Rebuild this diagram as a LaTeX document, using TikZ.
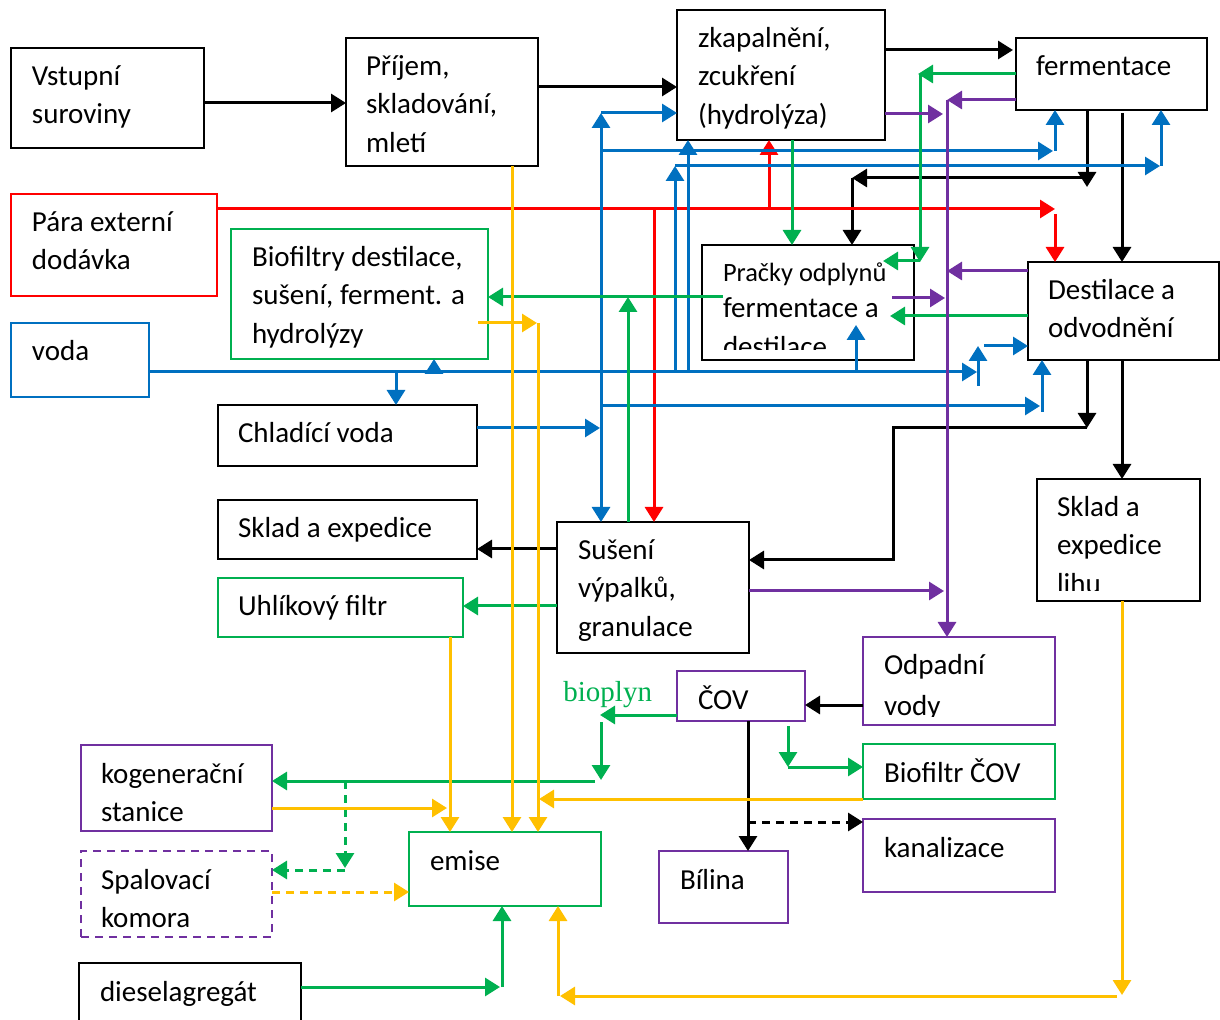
\documentclass[tikz,border=0pt]{standalone}
\usepackage{fontspec}
\setmainfont{Carlito}
\newfontfamily\serifb{Liberation Serif}
\usetikzlibrary{arrows.meta}
\definecolor{cblue}{HTML}{0070C0}
\definecolor{cgreen}{HTML}{00B050}
\definecolor{cpurple}{HTML}{7030A0}
\definecolor{cyellow}{HTML}{FFC000}
\definecolor{cred}{HTML}{FF0000}
\tikzset{
  box/.style={draw, line width=1pt, inner sep=0pt, outer sep=0pt, anchor=north west},
  conn/.style={line width=1.5pt, -{Triangle[length=7.5pt,width=9pt]}},
  dsh/.style={dash pattern=on 4pt off 3pt},
  txt/.style={anchor=base west, inner sep=0pt, outer sep=0pt, font=\fontsize{14.5}{19.5}\selectfont},
  smtxt/.style={anchor=base west, inner sep=0pt, outer sep=0pt, font=\fontsize{13.2}{18}\selectfont}
}
\newcommand{\mybox}[6]{\node[box,#6,minimum width={(#4-#2)*0.5pt},minimum height={(#5-#3)*0.5pt}] (#1) at (#2,#3) {};}
\begin{document}
\begin{tikzpicture}[x=0.5pt,y=-0.5pt]
\useasboundingbox (0,0) rectangle (1220,1020);
% boxes
\mybox{vst}{11}{48}{204}{148}{black}
\mybox{prij}{346}{38}{538}{166}{black}
\mybox{zkap}{677}{10}{885}{140}{black}
\mybox{ferm}{1016}{38}{1207}{110}{black}
\mybox{para}{11}{194}{217}{296}{cred}
\mybox{biof}{231}{229}{488}{359}{cgreen}
\mybox{voda}{11}{323}{149}{397}{cblue}
\mybox{prac}{702}{245}{914}{360}{black}
\mybox{dest}{1028}{262}{1219}{360}{black}
\mybox{chlad}{218}{405}{477}{466}{black}
\mybox{sklad}{218}{500}{477}{559}{black}
\mybox{suse}{557}{522}{749}{653}{black}
\mybox{lihu}{1037}{479}{1200}{601}{black}
\mybox{uhl}{218}{578}{463}{637}{cgreen}
\mybox{odp}{863}{637}{1055}{725}{cpurple}
\mybox{cov}{677}{671}{805}{721}{cpurple}
\mybox{kog}{81}{745}{272}{831}{cpurple}
\mybox{bcov}{863}{744}{1055}{799}{cgreen}
\mybox{spal}{81}{851}{272}{937}{cpurple,dsh}
\mybox{emis}{409}{832}{601}{906}{cgreen}
\mybox{kan}{863}{819}{1055}{892}{cpurple}
\mybox{bil}{659}{851}{788}{923}{cpurple}
\mybox{dies}{79}{963}{301}{1040}{black}
% texts
\node[txt] (t-vst1) at (32,86) {Vstupní};
\node[txt] (t-vst2) at (32,124) {suroviny};
\node[txt] (t-prij1) at (366,76) {Příjem,};
\node[txt] (t-prij2) at (366,114) {skladování,};
\node[txt] (t-prij3) at (366,153) {mletí};
\node[txt] (t-zkap1) at (698,48) {zkapalnění,};
\node[txt] (t-zkap2) at (698,86) {zcukření};
\node[txt] (t-zkap3) at (698,125) {(hydrolýza)};
\node[txt] (t-ferm) at (1036,76) {fermentace};
\node[txt] (t-para1) at (32,232) {Pára externí};
\node[txt] (t-para2) at (32,270) {dodávka};
\node[txt] (t-biof1) at (252,267) {Biofiltry destilace,};
\node[txt] (t-biof2) at (252,305) {sušení, ferment. a};
\node[txt] (t-biof3) at (252,344) {hydrolýzy};
\node[txt] (t-voda) at (32,361) {voda};
\node[smtxt] (t-prac1) at (723,282) {Pračky odplynů};
\node[txt] (t-prac2) at (723,318) {fermentace a};
\begin{scope}
\clip (702,320) rectangle (914,350);
\node[txt] (t-prac3) at (723,357) {destilace};
\end{scope}
\node[txt] (t-dest1) at (1048,300) {Destilace a};
\node[txt] (t-dest2) at (1048,338) {odvodnění};
\node[txt] (t-chlad) at (238,443) {Chladící voda};
\node[txt] (t-sklad) at (238,538) {Sklad a expedice};
\node[txt] (t-suse1) at (578,560) {Sušení};
\node[txt] (t-suse2) at (578,598) {výpalků,};
\node[txt] (t-suse3) at (578,637) {granulace};
\node[txt] (t-lihu1) at (1057,517) {Sklad a};
\node[txt] (t-lihu2) at (1057,555) {expedice};
\begin{scope}
\clip (1037,560) rectangle (1200,591);
\node[txt] (t-lihu3) at (1057,594) {lihu};
\end{scope}
\node[txt] (t-uhl) at (238,616) {Uhlíkový filtr};
\node[txt] (t-odp1) at (884,675) {Odpadní};
\begin{scope}
\clip (863,680) rectangle (1055,716);
\node[txt] (t-odp2) at (884,715) {vody};
\end{scope}
\node[txt] (t-cov) at (698,709) {ČOV};
\node[anchor=base west, inner sep=0pt, text=cgreen, font=\serifb\fontsize{14.5}{19.5}\selectfont] (t-biopl) at (563,702) {bioplyn};
\node[txt] (t-kog1) at (101,783) {kogenerační};
\node[txt] (t-kog2) at (101,821) {stanice};
\node[txt] (t-bcov) at (884,782) {Biofiltr ČOV};
\node[txt] (t-spal1) at (101,889) {Spalovací};
\node[txt] (t-spal2) at (101,927) {komora};
\node[txt] (t-emis) at (430,870) {emise};
\node[txt] (t-kan) at (884,857) {kanalizace};
\node[txt] (t-bil) at (680,889) {Bílina};
\node[txt] (t-dies) at (100,1001) {dieselagregát};
% black connectors
\draw[conn] (vst.east |- 0,103) -- (prij.west |- 0,103);
\draw[conn] (prij.east |- 0,87) -- (zkap.west |- 0,87);
\draw[conn] (zkap.east |- 0,50) -- (1013,50);
\draw[conn] (ferm.south -| 1087,0) -- (1087,187);
\draw[conn] (1087,178) -- (852,178);
\draw[conn] (852,178) -- (prac.north -| 852,0);
\draw[conn] (1122,113) -- (dest.north -| 1122,0);
\draw[conn] (dest.south -| 1087,0) -- (1087,428);
\draw[conn] (1087,428) -- (893,428) -- (893,560) -- (suse.east |- 0,560);
\draw[conn] (dest.south -| 1122,0) -- (lihu.north -| 1122,0);
\draw[conn] (suse.west |- 0,549) -- (sklad.east |- 0,549);
\draw[conn] (odp.west |- 0,705) -- (cov.east |- 0,705);
\draw[conn] (cov.south -| 748,0) -- (bil.north -| 748,0);
\draw[conn,dsh] (748,822) -- (kan.west |- 0,822);
% red
\draw[conn,cred] (para.east |- 0,209) -- (1055,209);
\draw[conn,cred] (1055,214) -- (dest.north -| 1055,0);
\draw[conn,cred] (769,209) -- (zkap.south -| 769,0);
\draw[conn,cred] (654,209) -- (suse.north -| 654,0);
% blue
\draw[conn,cblue] (voda.east |- 0,372) -- (977,372);
\draw[conn,cblue] (978,386) -- (978,346);
\draw[conn,cblue] (984,346) -- (dest.west |- 0,346);
\draw[conn,cblue] (396,372) -- (chlad.north -| 396,0);
\draw[conn,cblue] (434,372) -- (biof.south -| 434,0);
\draw[conn,cblue] (856,372) -- (856,325);
\draw[conn,cblue] (675,372) -- (675,166);
\draw[conn,cblue] (675,166) -- (1160,166);
\draw[conn,cblue] (1161,166) -- (ferm.south -| 1161,0);
\draw[conn,cblue] (688,372) -- (zkap.south -| 688,0);
\draw[conn,cblue] (chlad.east |- 0,428) -- (600,428);
\draw[conn,cblue] (601,428) -- (601,113);
\draw[conn,cblue] (601,113) -- (zkap.west |- 0,113);
\draw[conn,cblue] (601,428) -- (suse.north -| 601,0);
\draw[conn,cblue] (601,151) -- (1053,151);
\draw[conn,cblue] (1055,151) -- (ferm.south -| 1055,0);
\draw[conn,cblue] (601,406) -- (1040,406);
\draw[conn,cblue] (1042,412) -- (dest.south -| 1042,0);
% green
\draw[conn,cgreen] (ferm.west |- 0,74) -- (918,74);
\draw[conn,cgreen] (920,74) -- (920,262);
\draw[conn,cgreen] (920,261) -- (883,261);
\draw[conn,cgreen] (zkap.south -| 792,0) -- (prac.north -| 792,0);
\draw[conn,cgreen] (dest.west |- 0,316) -- (890,316);
\draw[conn,cgreen] (723,297) -- (biof.east |- 0,297);
\draw[conn,cgreen] (suse.north -| 628,0) -- (628,297);
\draw[conn,cgreen] (suse.west |- 0,606) -- (uhl.east |- 0,606);
\draw[conn,cgreen] (cov.west |- 0,715) -- (600,715);
\draw[conn,cgreen] (601,722) -- (601,780);
\draw[conn,cgreen] (595,781) -- (kog.east |- 0,781);
\draw[conn,cgreen,dsh] (345,781) -- (345,868);
\draw[conn,cgreen,dsh] (345,870) -- (spal.east |- 0,870);
\draw[conn,cgreen] (788,726) -- (788,767);
\draw[conn,cgreen] (788,767) -- (bcov.west |- 0,767);
\draw[conn,cgreen] (dies.east |- 0,987) -- (500,987);
\draw[conn,cgreen] (502,987) -- (emis.south -| 502,0);
% purple
\draw[conn,cpurple] (zkap.east |- 0,114) -- (943,114);
\draw[conn,cpurple] (ferm.west |- 0,100) -- (947,100);
\draw[conn,cpurple] (947,100) -- (odp.north -| 947,0);
\draw[conn,cpurple] (dest.west |- 0,271) -- (947,271);
\draw[conn,cpurple] (892,298) -- (945,298);
\draw[conn,cpurple] (suse.east |- 0,591) -- (944,591);
% yellow
\draw[conn,cyellow] (prij.south -| 512,0) -- (emis.north -| 512,0);
\draw[conn,cyellow] (478,323) -- (537,323);
\draw[conn,cyellow] (538,323) -- (emis.north -| 538,0);
\draw[conn,cyellow] (uhl.south -| 450,0) -- (emis.north -| 450,0);
\draw[conn,cyellow] (kog.east |- 0,808) -- (447,808);
\draw[conn,cyellow] (bcov.west |- 0,799) -- (539,799);
\draw[conn,cyellow,dsh] (spal.east |- 0,892) -- (emis.west |- 0,892);
\draw[conn,cyellow] (lihu.south -| 1122,0) -- (1122,995);
\draw[conn,cyellow] (1117,996) -- (560,996);
\draw[conn,cyellow] (558,996) -- (emis.south -| 558,0);
\end{tikzpicture}
\end{document}
